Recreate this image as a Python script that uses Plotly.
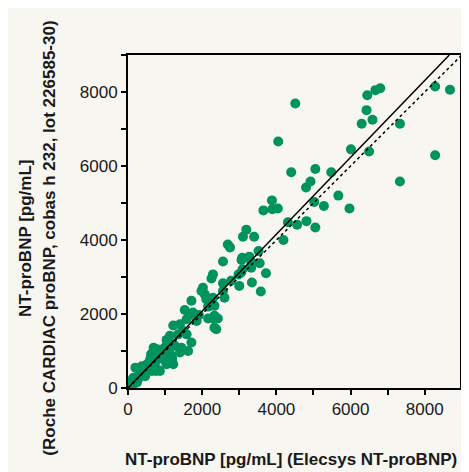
import plotly.graph_objects as go

# Elecsys NT-proBNP (x) vs Roche CARDIAC proBNP cobas h 232 (y), pg/mL
elecsys = [
    8280, 8680, 6800, 6670, 6450, 6430, 6590, 6300, 7330, 4510,
    4050, 6010, 6500, 8280, 4400, 5050, 5480, 4920, 4800, 7330,
    5670, 3880, 5970, 5020, 5280, 3650, 3890, 4040, 4310, 4560,
    4810, 5050, 4190, 3190, 3100, 3400, 3520, 2690, 2750, 3270,
    3080, 2560, 3060, 3320, 3550, 3320, 3090, 3720, 2290, 2250,
    3050, 2980, 2780, 2560, 3340, 3000, 3580, 2020, 1980, 2070,
    2560, 2600, 2290, 2110, 2330, 2160, 1710, 1530, 1750, 1910,
    1580, 1850, 2160, 2290, 2420, 2330, 2200, 2380, 1220, 1400,
    1490, 1130, 1350, 1580, 1710, 1620, 1440, 1260, 1130, 950,
    780, 690, 1180, 950, 600, 730, 510, 370, 200, 330,
    640, 460, 150, 60, 110, 40, 240, 860, 780, 1040,
    1220, 950, 1400, 1670, 2330, 620, 750, 1190, 700, 1060,
    80, 120, 180, 250, 300, 350, 420, 500, 550, 280,
    90, 30, 50, 160, 200, 380, 450, 600, 650, 700,
    800, 850, 900, 1000, 1100, 1150, 1000, 900, 1040, 830,
]
cardiac = [
    8150, 8060, 8100, 8050, 7910, 7510, 7250, 7140, 7140, 7690,
    6660, 6450, 6390, 6290, 5830, 5920, 5830, 5580, 5420, 5580,
    5200, 5070, 4850, 5030, 4920, 4800, 4830, 4850, 4480, 4410,
    4510, 4340, 4000, 4280, 4090, 4090, 3700, 3880, 3800, 3550,
    3520, 3420, 3460, 3410, 3370, 3250, 3210, 3100, 3070, 2960,
    3120, 3070, 2900, 2830, 2850, 2760, 2610, 2710, 2620, 2530,
    2620, 2440, 2440, 2400, 2220, 2200, 2360, 2110, 2040, 1970,
    1860, 1810, 1880, 1880, 1880, 1630, 2310, 1590, 1690, 1720,
    1540, 1410, 1450, 1450, 1230, 1000, 1090, 1140, 1090, 1050,
    1050, 1090, 870, 910, 780, 690, 640, 590, 550, 420,
    460, 320, 280, 190, 100, 40, 150, 460, 510, 640,
    640, 780, 960, 1990, 1950, 910, 460, 780, 1050, 1180,
    90, 130, 200, 300, 350, 380, 480, 520, 600, 260,
    60, 20, 80, 120, 240, 450, 500, 650, 560, 800,
    850, 900, 1000, 950, 1000, 1200, 1100, 830, 1300, 900,
]

axis_max_x = 8950
axis_max_y = 9000
reg_slope = 1.039
reg_intercept = 0
tick_labels = ["0", "2000", "4000", "6000", "8000"]
tick_vals = [0, 2000, 4000, 6000, 8000]

green = "#00935e"
bg = "#f7f6f1"

fig = go.Figure()
fig.add_trace(go.Scatter(
    x=elecsys, y=cardiac, mode="markers",
    marker=dict(color=green, size=10, line=dict(width=0)),
    hoverinfo="skip", showlegend=False,
))
# regression (solid) and identity (dotted)
fig.add_trace(go.Scatter(
    x=[0, axis_max_y / reg_slope], y=[reg_intercept, axis_max_y],
    mode="lines", line=dict(color="black", width=1.5), showlegend=False,
))
fig.add_trace(go.Scatter(
    x=[0, axis_max_y], y=[0, axis_max_y],
    mode="lines", line=dict(color="black", width=1.5, dash="dot"), showlegend=False,
))

axis_common = dict(
    showgrid=False, zeroline=False,
    showline=True, linecolor="black", linewidth=2, mirror=True,
    ticks="outside", ticklen=5, tickwidth=1.5, tickcolor="black",
    tickvals=tick_vals, ticktext=tick_labels,
    minor=dict(dtick=1000, ticks="outside", ticklen=5, tickwidth=1.5, tickcolor="black"),
    tickfont=dict(family="Liberation Sans, Arial", size=17, color="#1a1a1a"),
)

title_font = dict(family="Liberation Sans, Arial", size=17, color="#1a1a1a")

fig.update_layout(
    width=461, height=464,
    margin=dict(l=120, r=7, t=47, b=84),
    paper_bgcolor=bg, plot_bgcolor=bg,
    xaxis=dict(range=[0, axis_max_x], **axis_common),
    yaxis=dict(range=[0, axis_max_y], **axis_common),
    annotations=[
        dict(text="<b>NT-proBNP [pg/mL] (Elecsys NT-proBNP)</b>",
             xref="paper", yref="paper", x=0.49, y=-0.216,
             xanchor="center", yanchor="middle", showarrow=False, font=title_font),
        dict(text="<b>NT-proBNP [pg/mL]</b>",
             xref="paper", yref="paper", x=-0.311, y=0.45,
             xanchor="center", yanchor="middle", textangle=-90, showarrow=False,
             font=title_font),
        dict(text="<b>(Roche CARDIAC proBNP, cobas h 232, lot 226585-30)</b>",
             xref="paper", yref="paper", x=-0.2365, y=0.45,
             xanchor="center", yanchor="middle", textangle=-90, showarrow=False,
             font=title_font),
    ],
)

fig.write_html("out.html")
